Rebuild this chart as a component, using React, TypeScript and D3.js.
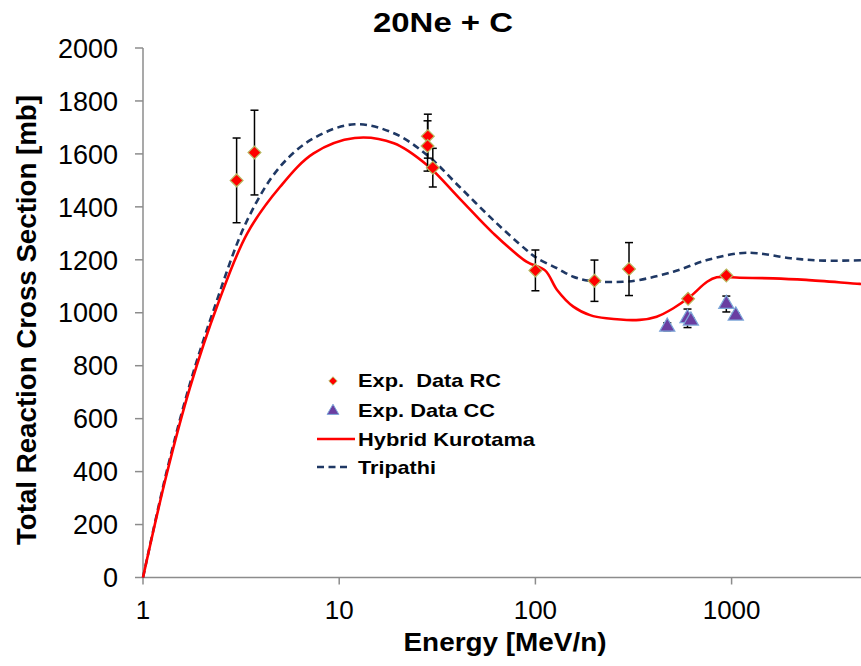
import React from "react";
import * as d3 from "d3";

// Experimental reaction cross sections (RC) with error bars
const rcEnergy = [3, 3.7, 28.3, 28.2, 30, 100, 200, 300, 600, 940];
const rcValue = [1500, 1605, 1667, 1630, 1548, 1160, 1121, 1165, 1053, 1141];
const rcError = [160, 160, 83, 95, 73, 77, 78, 100, 0, 0];

// Experimental charge-changing cross sections (CC)
const ccEnergy = [470, 596, 620, 940, 1050];
const ccValue = [947, 979, 970, 1033, 989];
const ccError = [15, 35, 10, 30, 10];

// Hybrid Kurotama model curve
const kurotamaEnergy = [1, 1.32, 1.74, 2.4, 3.4, 5, 7.4, 12, 19, 28, 41, 61, 90, 112, 129, 156, 190, 230, 340, 415, 505, 615, 750, 840, 1100, 1630, 2400, 4500, 5000];
const kurotamaValue = [0, 390, 720, 1030, 1300, 1476, 1602, 1660, 1640, 1558, 1432, 1300, 1193, 1160, 1086, 1023, 991, 979, 973, 985, 1017, 1061, 1117, 1134, 1132, 1130, 1124, 1109, 1107];

// Tripathi model curve
const tripathiEnergy = [1, 1.32, 1.74, 2.29, 3.4, 5, 7.4, 12, 19, 28, 41, 61, 90, 102, 129, 156, 190, 280, 340, 505, 750, 1100, 1350, 2000, 2950, 5000];
const tripathiValue = [0, 400, 735, 1010, 1350, 1552, 1659, 1712, 1678, 1596, 1476, 1350, 1237, 1206, 1168, 1136, 1120, 1117, 1124, 1155, 1199, 1225, 1225, 1206, 1197, 1199];

const xTicks = [1, 10, 100, 1000];
const yTicks = [0, 200, 400, 600, 800, 1000, 1200, 1400, 1600, 1800, 2000];

const W = 861;
const H = 666;
const FONT = "'Liberation Sans', Arial, sans-serif";
const AXIS = "#8c8c8c";

export default function App() {
  const x = d3.scaleLog().domain([1, 10000]).range([143, 143 + 4 * 196.2]);
  const y = d3.scaleLinear().domain([0, 2000]).range([577.5, 48]);

  const line = d3
    .line<[number, number]>()
    .x((d) => x(d[0]))
    .y((d) => y(d[1]))
    .curve(d3.curveCatmullRom.alpha(0.5));

  const kurotama = line(kurotamaEnergy.map((e, i) => [e, kurotamaValue[i]]) as [number, number][]) || "";
  const tripathi = line(tripathiEnergy.map((e, i) => [e, tripathiValue[i]]) as [number, number][]) || "";

  const diamond = d3.symbol().type(d3.symbolDiamond2).size(105)() || "";
  const triangle = d3.symbol().type(d3.symbolTriangle).size(100)() || "";
  const diamondSmall = d3.symbol().type(d3.symbolDiamond2).size(45)() || "";
  const triangleSmall = d3.symbol().type(d3.symbolTriangle).size(60)() || "";

  const errBar = (cx: number, v: number, err: number, key: string) => {
    if (!err) return null;
    const y0 = y(v + err);
    const y1 = y(v - err);
    return (
      <g key={key} stroke="#000" strokeWidth={1.5}>
        <line x1={cx} x2={cx} y1={y0} y2={y1} />
        <line x1={cx - 4} x2={cx + 4} y1={y0} y2={y0} />
        <line x1={cx - 4} x2={cx + 4} y1={y1} y2={y1} />
      </g>
    );
  };

  const xEnd = W;
  const legendX = 333;
  const legendTextX = 358;

  return (
    <svg
      width={W}
      height={H}
      style={{ position: "absolute", left: 0, top: 0, background: "#fff" }}
      fontFamily={FONT}
    >
      <rect width={W} height={H} fill="#fff" />

      {/* title */}
      <text x={443} y={32} textAnchor="middle" fontSize={28} fontWeight="bold" textLength={140} lengthAdjust="spacingAndGlyphs">
        20Ne + C
      </text>

      {/* y axis */}
      <line x1={x(1)} x2={x(1)} y1={y(2000)} y2={y(0)} stroke={AXIS} strokeWidth={1.5} />
      {yTicks.map((t) => (
        <g key={"y" + t}>
          <line x1={x(1) - 8} x2={x(1)} y1={y(t)} y2={y(t)} stroke={AXIS} strokeWidth={1.5} />
          <text x={118} y={y(t)} dy="0.36em" textAnchor="end" fontSize={27}>
            {t}
          </text>
        </g>
      ))}

      {/* x axis */}
      <line x1={x(1)} x2={xEnd} y1={y(0)} y2={y(0)} stroke={AXIS} strokeWidth={1.5} />
      {xTicks.map((t) => (
        <g key={"x" + t}>
          <line x1={x(t)} x2={x(t)} y1={y(0)} y2={y(0) + 7} stroke={AXIS} strokeWidth={1.5} />
          <text x={x(t)} y={619} textAnchor="middle" fontSize={26}>
            {t}
          </text>
        </g>
      ))}

      {/* axis titles */}
      <text x={505} y={651} textAnchor="middle" fontSize={26} fontWeight="bold" textLength={203} lengthAdjust="spacingAndGlyphs">
        Energy [MeV/n)
      </text>
      <text
        transform={`translate(36,320) rotate(-90)`}
        textAnchor="middle"
        fontSize={27}
        fontWeight="bold"
        textLength={450}
        lengthAdjust="spacingAndGlyphs"
      >
        Total Reaction Cross Section [mb]
      </text>

      {/* model curves */}
      <path d={tripathi} fill="none" stroke="#1f3864" strokeWidth={2.6} strokeDasharray="7,4.5" />
      <path d={kurotama} fill="none" stroke="#ff0000" strokeWidth={2.6} />

      {/* error bars */}
      {ccEnergy.map((e, i) => errBar(x(e), ccValue[i], ccError[i], "ce" + i))}
      {rcEnergy.map((e, i) => errBar(x(e), rcValue[i], rcError[i], "re" + i))}

      {/* CC markers */}
      {ccEnergy.map((e, i) => (
        <path
          key={"cc" + i}
          d={triangle}
          transform={`translate(${x(e)},${y(ccValue[i])})`}
          fill="#6a3ea1"
          stroke="#7da7d9"
          strokeWidth={1.2}
        />
      ))}

      {/* RC markers */}
      {rcEnergy.map((e, i) => (
        <path
          key={"rc" + i}
          d={diamond}
          transform={`translate(${x(e)},${y(rcValue[i])})`}
          fill="#ff0000"
          stroke="#b8b860"
          strokeWidth={1.2}
        />
      ))}

      {/* legend */}
      <g fontSize={19} fontWeight="bold">
        <path d={diamondSmall} transform={`translate(${legendX},381)`} fill="#ff0000" stroke="#b8b860" strokeWidth={1} />
        <text x={legendTextX} y={387} textLength={143} lengthAdjust="spacingAndGlyphs" style={{ whiteSpace: "pre" }}>
          {"Exp.  Data RC"}
        </text>
        <path d={triangleSmall} transform={`translate(${legendX},411)`} fill="#6a3ea1" stroke="#7da7d9" strokeWidth={1} />
        <text x={legendTextX} y={417} textLength={137} lengthAdjust="spacingAndGlyphs">
          Exp. Data CC
        </text>
        <line x1={317} x2={355} y1={439} y2={439} stroke="#ff0000" strokeWidth={2.6} />
        <text x={legendTextX} y={446} textLength={177} lengthAdjust="spacingAndGlyphs">
          Hybrid Kurotama
        </text>
        <line x1={317} x2={349} y1={467} y2={467} stroke="#1f3864" strokeWidth={2.6} strokeDasharray="7,4.5" />
        <text x={legendTextX} y={474} textLength={78} lengthAdjust="spacingAndGlyphs">
          Tripathi
        </text>
      </g>
    </svg>
  );
}
